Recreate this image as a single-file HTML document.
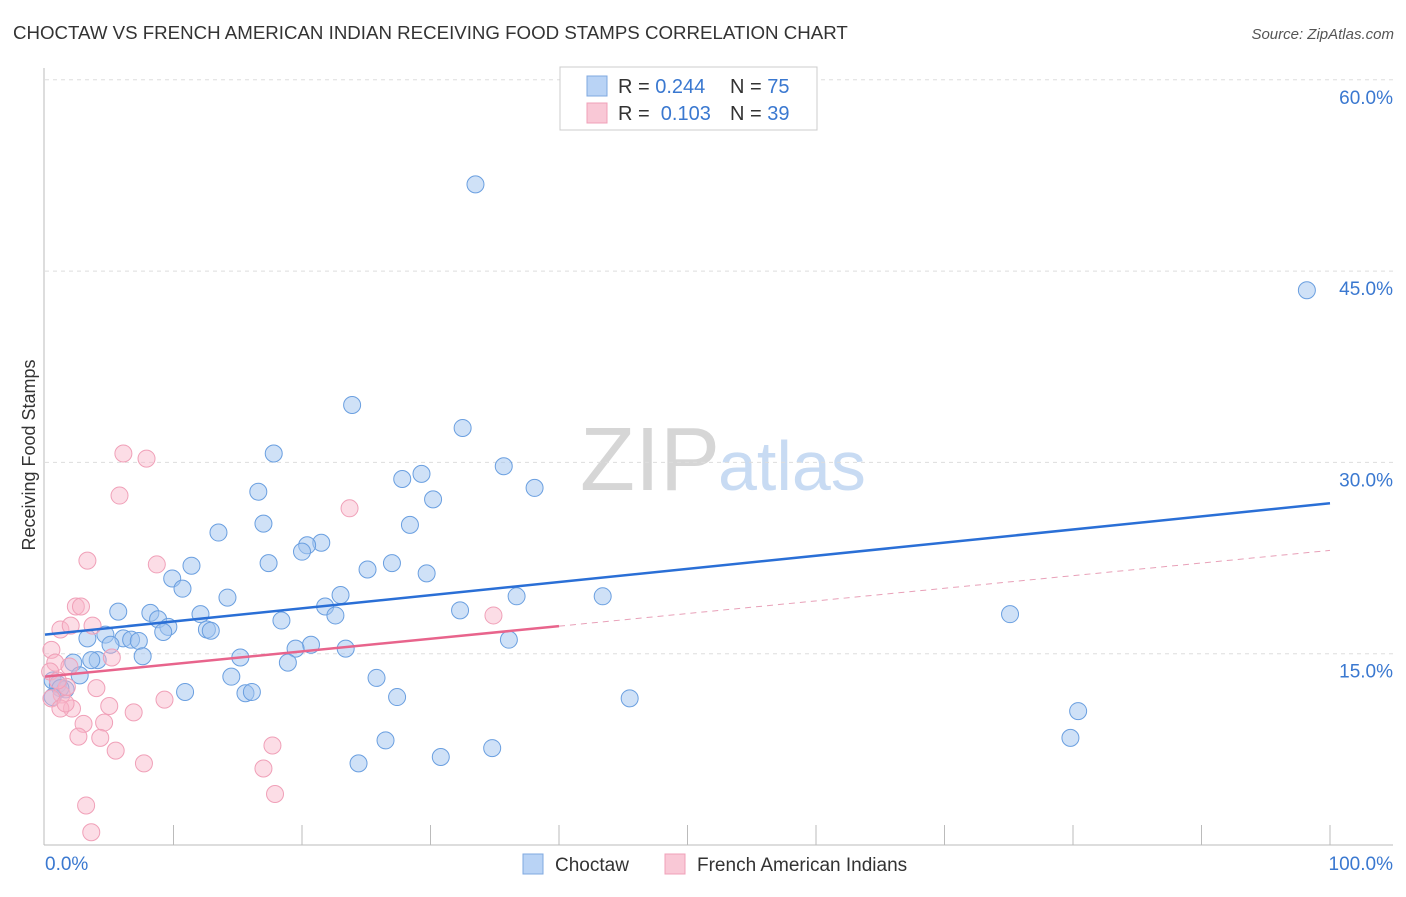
<!DOCTYPE html>
<html><head><meta charset="utf-8"><style>
body{margin:0;background:#fff;font-family:"Liberation Sans",sans-serif}
svg text{font-family:"Liberation Sans",sans-serif}
</style></head><body>
<svg id="c" width="1406" height="892">
<text x="13" y="39" font-size="18.7" fill="#333">CHOCTAW VS FRENCH AMERICAN INDIAN RECEIVING FOOD STAMPS CORRELATION CHART</text>
<text x="1394" y="39" font-size="15" fill="#555" text-anchor="end" font-style="italic">Source: ZipAtlas.com</text>
<text x="35" y="455" font-size="18" fill="#333" text-anchor="middle" transform="rotate(-90 35 455)">Receiving Food Stamps</text>
<text x="720" y="490" font-size="90" fill="#d6d6d6" text-anchor="end" font-family="Liberation Serif">ZIP</text>
<text x="718" y="490" font-size="70" fill="#c8dbf3">atlas</text>
<g id="grid"></g><g id="marks"></g>
<rect x="560" y="67" width="257" height="63" fill="#fff" stroke="#ccc"/>
<rect x="587" y="76" width="20" height="20" fill="#b9d3f5" stroke="#7fa8e0"/>
<rect x="587" y="103" width="20" height="20" fill="#f9c8d6" stroke="#f0a0b8"/>
<text x="618" y="93" font-size="20" fill="#333">R = <tspan fill="#3a78d0">0.244</tspan></text>
<text x="730" y="93" font-size="20" fill="#333">N = <tspan fill="#3a78d0">75</tspan></text>
<text x="618" y="120" font-size="20" fill="#333">R = <tspan fill="#3a78d0">&#160;0.103</tspan></text>
<text x="730" y="120" font-size="20" fill="#333">N = <tspan fill="#3a78d0">39</tspan></text>
<rect x="523" y="854" width="20" height="20" fill="#b9d3f5" stroke="#7fa8e0"/>
<text x="555" y="871" font-size="19" fill="#333">Choctaw</text>
<rect x="665" y="854" width="20" height="20" fill="#f9c8d6" stroke="#f0a0b8"/>
<text x="697" y="871" font-size="19" fill="#333">French American Indians</text>
</svg>
<script>
const yTicks=[15,30,45,60];
const yTickLabels=["15.0%","30.0%","45.0%","60.0%"];
const xTickLabels=["0.0%","100.0%"];
const choctawX=[33.5,98.2,23.9,32.5,17.8,35.7,29.3,27.8,38.1,30.2,16.6,17.0,28.4,13.5,21.5,20.4,20.0,27.0,17.4,25.1,29.7,11.4,9.9,10.7,23.0,36.7,43.4,14.2,32.3,21.8,22.6,5.7,8.2,12.1,18.4,75.1,8.8,9.6,9.2,12.6,12.9,4.7,3.3,6.1,6.7,7.3,5.1,36.1,20.7,19.5,23.4,7.6,4.1,3.6,15.2,18.9,2.2,2.7,14.5,25.8,10.9,15.6,16.1,27.4,45.5,80.4,0.6,1.0,1.6,1.2,26.5,79.8,34.8,30.8,24.4,0.6];
const choctawY=[51.8,43.5,34.5,32.7,30.7,29.7,29.1,28.7,28.0,27.1,27.7,25.2,25.1,24.5,23.7,23.5,23.0,22.1,22.1,21.6,21.3,21.9,20.9,20.1,19.6,19.5,19.5,19.4,18.4,18.7,18.0,18.3,18.2,18.1,17.6,18.1,17.7,17.1,16.7,16.9,16.8,16.5,16.2,16.2,16.1,16.0,15.7,16.1,15.7,15.4,15.4,14.8,14.5,14.5,14.7,14.3,14.3,13.3,13.2,13.1,12.0,11.9,12.0,11.6,11.5,10.5,12.9,12.6,12.2,12.3,8.2,8.4,7.6,6.9,6.4,11.6];
const frenchX=[6.1,7.9,5.8,23.7,3.3,8.7,2.4,2.8,1.2,2.0,3.7,0.5,0.8,5.2,1.9,4.0,0.4,1.3,0.5,9.3,6.9,5.0,2.1,1.2,1.6,3.0,4.6,2.6,4.3,5.5,17.7,34.9,7.7,17.0,17.9,3.2,3.6,1.7,1.0];
const frenchY=[30.7,30.3,27.4,26.4,22.3,22.0,18.7,18.7,16.9,17.2,17.2,15.3,14.3,14.7,14.0,12.3,13.6,11.8,11.5,11.4,10.4,10.9,10.7,10.7,11.1,9.5,9.6,8.5,8.4,7.4,7.8,18.0,6.4,6.0,4.0,3.1,1.0,12.4,12.9];
const choctawTrend=[16.5,26.8];
const frenchTrend=[13.2,23.1];
const X=v=>45+v*12.85, Y=v=>845-v*191.3/15;
const NS="http://www.w3.org/2000/svg";
function mk(t,a,p){const e=document.createElementNS(NS,t);for(const k in a)e.setAttribute(k,a[k]);p.appendChild(e);return e;}
const g=document.getElementById('grid'), m=document.getElementById('marks');
yTicks.forEach((t,i)=>{
 const l=mk('line',{x1:45,x2:1393,y1:Y(t),y2:Y(t),stroke:'#ddd','stroke-dasharray':'4,4'},g);
 
 
 const tx=mk('text',{x:1393,y:Y(t)+24,'font-size':19,fill:'#3a78d0','text-anchor':'end'},g);
 tx.textContent=yTickLabels[i];
 
 
});
const ax=mk('line',{x1:44,x2:44,y1:68,y2:845,stroke:'#bbb'},g);


const bx=mk('line',{x1:44,x2:1393,y1:845,y2:845,stroke:'#bbb'},g);


for(let i=1;i<=10;i++){
 const t=mk('line',{x1:X(i*10),x2:X(i*10),y1:825,y2:845,stroke:'#bbb'},g);
 
 
}
[[0,'start',45],[100,'end',1393]].forEach((d,i)=>{
 const t=mk('text',{x:d[2],y:870,'font-size':19,fill:'#3a78d0','text-anchor':d[1]},g);
 t.textContent=xTickLabels[i];
 
 
});
choctawX.forEach((v,i)=>{
 const c=mk('circle',{cx:X(v),cy:Y(choctawY[i]),r:8.5,fill:'rgba(160,196,240,0.5)',stroke:'#6a9fe0','stroke-width':1},m);
 
 
});
frenchX.forEach((v,i)=>{
 const c=mk('circle',{cx:X(v),cy:Y(frenchY[i]),r:8.5,fill:'rgba(248,180,200,0.45)',stroke:'#f0a0b8','stroke-width':1},m);
 
 
});
const fy=x=>frenchTrend[0]+(frenchTrend[1]-frenchTrend[0])*x/100;
const l1=mk('line',{x1:X(0),y1:Y(choctawTrend[0]),x2:X(100),y2:Y(choctawTrend[1]),stroke:'#2a6fd6','stroke-width':2.5},m);


const l2=mk('line',{x1:X(0),y1:Y(fy(0)),x2:X(40),y2:Y(fy(40)),stroke:'#e8648c','stroke-width':2.5},m);


const l3=mk('line',{x1:X(40),y1:Y(fy(40)),x2:X(100),y2:Y(fy(100)),stroke:'#e8a0b8','stroke-width':1,'stroke-dasharray':'6,5'},m);


</script>
</body></html>
